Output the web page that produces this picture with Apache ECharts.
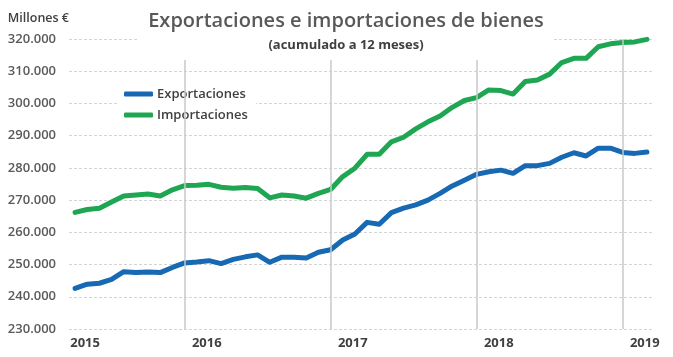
<!DOCTYPE html>
<html>
<head>
<meta charset="utf-8">
<script src="https://cdn.jsdelivr.net/npm/echarts@6/dist/echarts.min.js"></script>
<style>html,body{margin:0;padding:0;background:#fff}#c{width:673px;height:357px}</style>
</head>
<body>
<div id="c"></div>
<script>
const months = ['2015-03','2015-04','2015-05','2015-06','2015-07','2015-08','2015-09','2015-10','2015-11','2015-12',
  '2016-01','2016-02','2016-03','2016-04','2016-05','2016-06','2016-07','2016-08','2016-09','2016-10','2016-11','2016-12',
  '2017-01','2017-02','2017-03','2017-04','2017-05','2017-06','2017-07','2017-08','2017-09','2017-10','2017-11','2017-12',
  '2018-01','2018-02','2018-03','2018-04','2018-05','2018-06','2018-07','2018-08','2018-09','2018-10','2018-11','2018-12',
  '2019-01','2019-02'];
const exportaciones = [242600,243900,244200,245400,247800,247500,247700,247500,249100,250500,
  250800,251200,250300,251600,252400,253000,250700,252300,252300,252000,253800,254600,
  257600,259500,263100,262500,266100,267500,268500,270000,272100,274400,276200,278000,
  278800,279300,278300,280700,280700,281400,283300,284700,283700,286100,286100,284800,
  284500,284900];
const importaciones = [266200,267100,267500,269400,271300,271600,271900,271300,273200,274500,
  274600,274900,274000,273700,273900,273600,270700,271600,271300,270600,272100,273300,
  277300,279900,284200,284200,288100,289500,292100,294300,296100,298800,300900,301800,
  304200,304000,302900,306800,307300,309100,312700,314000,314000,317600,318500,318900,
  319100,319900];
const yearLabels = ['2015','2016','2017','2018','2019'];
const yearLabelCats = ['2015-03','2016-01','2017-01','2018-01','2019-01'];
const yearEndCats = ['2015-12','2016-12','2017-12','2018-12'];
const seriesNames = ['Exportaciones','Importaciones'];

const fmt = v => String(v).replace(/\B(?=(\d{3})+(?!\d))/g, '.');
const chart = echarts.init(document.getElementById('c'), null, {renderer:'canvas'});
chart.setOption({
  animation: false,
  backgroundColor: '#ffffff',
  textStyle: {fontFamily: 'Open Sans'},
  title: {
    text: 'Exportaciones e importaciones de bienes',
    subtext: '(acumulado a 12 meses)',
    left: 336, top: 0,
    textAlign: 'center',
    padding: [9, 10, 6, 10],
    itemGap: 4,
    backgroundColor: '#ffffff',
    textStyle: {fontFamily: 'Open Sans', fontWeight: 600, fontSize: 20, color: '#595959', lineHeight: 24},
    subtextStyle: {fontFamily: 'Open Sans', fontWeight: 700, fontSize: 13, color: '#404040', lineHeight: 17}
  },
  legend: {
    orient: 'vertical',
    left: 117, top: 79,
    padding: [7, 8, 4, 7],
    itemGap: 5,
    itemWidth: 29, itemHeight: 5,
    icon: 'roundRect',
    backgroundColor: '#ffffff',
    data: seriesNames,
    textStyle: {fontFamily: 'Open Sans', fontSize: 13, fontWeight: 600, color: '#404040', lineHeight: 16, padding: [0,0,0,-1]}
  },
  grid: {left: 69, right: 20, top: 39, bottom: 28, containLabel: false},
  xAxis: {
    type: 'category',
    data: months,
    boundaryGap: true,
    axisLine: {show: false},
    axisTick: {show: false},
    splitLine: {show: false},
    axisLabel: {
      interval: (i, v) => yearLabelCats.indexOf(v) >= 0,
      formatter: v => { const k = yearLabelCats.indexOf(v); return k >= 0 ? yearLabels[k] : ''; },
      align: 'center',
      padding: [0, 0, 0, 20],
      margin: 8,
      fontFamily: 'Open Sans', fontWeight: 700, fontSize: 13, color: '#404040'
    }
  },
  yAxis: {
    type: 'value',
    min: 230000, max: 320000, interval: 10000,
    name: 'Millones €',
    nameLocation: 'end',
    nameGap: 14,
    nameTextStyle: {fontFamily: 'Open Sans', fontWeight: 600, fontSize: 12.5, color: '#404040', align: 'right'},
    axisLine: {show: false},
    axisTick: {show: false},
    splitLine: {show: true, lineStyle: {color: '#d4d4d4', width: 1, type: [3, 2]}},
    axisLabel: {
      formatter: fmt,
      margin: 13,
      fontFamily: 'Open Sans', fontWeight: 600, fontSize: 13, color: '#595959'
    }
  },
  series: [
    {
      name: seriesNames[0], type: 'line', data: exportaciones,
      showSymbol: false, symbol: 'none', smooth: false,
      color: '#1769b3',
      lineStyle: {width: 5, color: '#1769b3', cap: 'round', join: 'round'},
      emphasis: {disabled: true},
      markLine: {
        silent: true, symbol: ['none', 'none'], label: {show: false},
        lineStyle: {color: '#c9c9c9', width: 1.5, type: 'solid'},
        emphasis: {disabled: true},
        data: yearEndCats.map(c => ({xAxis: c}))
      }
    },
    {
      name: seriesNames[1], type: 'line', data: importaciones,
      showSymbol: false, symbol: 'none', smooth: false,
      color: '#1fa653',
      lineStyle: {width: 5, color: '#1fa653', cap: 'round', join: 'round'},
      emphasis: {disabled: true}
    }
  ]
});
</script>
</body>
</html>
